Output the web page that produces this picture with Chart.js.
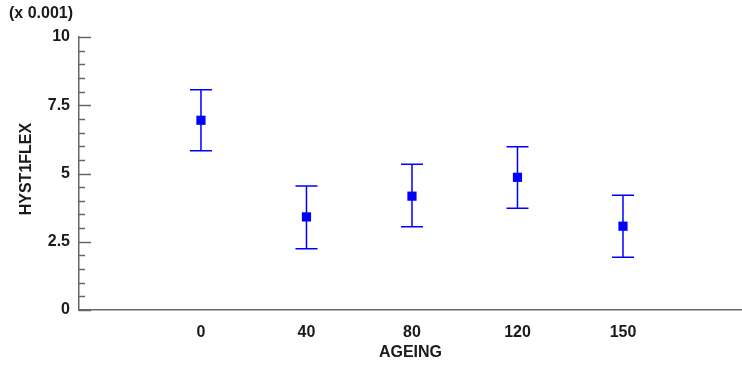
<!DOCTYPE html>
<html>
<head>
<meta charset="utf-8">
<script src="https://cdn.jsdelivr.net/npm/chart.js@4.4.0/dist/chart.umd.min.js"></script>
<style>
  html, body { margin: 0; padding: 0; background: #fff; overflow: hidden; }
  #wrap { width: 742px; height: 366px; position: relative; overflow: hidden; }
  canvas { display: block; }
</style>
</head>
<body>
<div id="wrap"><canvas id="chart"></canvas></div>
<script>
// ─── DATA ─────────────────────────────────────────────────────
const categories = ['0', '40', '80', '120', '150'];
const means      = [6.95, 3.41, 4.17, 4.86, 3.07];   // x 0.001
const lowerBars  = [5.83, 2.24, 3.05, 3.73, 1.93];
const upperBars  = [8.07, 4.54, 5.34, 5.98, 4.20];
const yTicks     = [0, 2.5, 5, 7.5, 10];

const BLUE = '#0000ff';
const AXIS = '#666666';
const TEXT = '#1a1a1a';
const FONT = 'Arial, "Liberation Sans", sans-serif';

// ─── ERROR BARS + AXIS TICKS ─────────────────────────────────
const errorBars = {
    id: 'errorBars',
    beforeDatasetsDraw(chart) {
        const { ctx, scales: { x, y } } = chart;
        ctx.save();
        ctx.strokeStyle = BLUE;
        ctx.lineWidth = 1.5;
        means.forEach((m, i) => {
            const px = x.getPixelForValue(i);
            const top = y.getPixelForValue(upperBars[i]);
            const bot = y.getPixelForValue(lowerBars[i]);
            ctx.beginPath();
            ctx.moveTo(px, top); ctx.lineTo(px, bot);
            ctx.moveTo(px - 11, top); ctx.lineTo(px + 11, top);
            ctx.moveTo(px - 11, bot); ctx.lineTo(px + 11, bot);
            ctx.stroke();
        });
        ctx.restore();
    },
    afterDraw(chart) {
        const { ctx, scales: { y } } = chart;
        const left = chart.chartArea.left;
        ctx.save();
        ctx.strokeStyle = AXIS;
        ctx.lineWidth = 1.5;
        // major ticks every 2.5, minor every 0.5, pointing into the plot
        for (let v = 0; v <= 10.001; v += 0.5) {
            const py = Math.round(y.getPixelForValue(v)) + 0.5;
            const major = Math.abs(v / 2.5 - Math.round(v / 2.5)) < 1e-6;
            ctx.beginPath();
            ctx.moveTo(left, py);
            ctx.lineTo(left + (major ? 12 : 6), py);
            ctx.stroke();
        }
        ctx.fillStyle = TEXT;
        ctx.font = 'bold 16px ' + FONT;
        ctx.textBaseline = 'middle';
        ctx.fillText('(x 0.001)', 9, 14);
        ctx.restore();
    }
};

new Chart(document.getElementById('chart'), {
    type: 'scatter',
    data: {
        datasets: [{
            data: means.map((m, i) => ({ x: i, y: m })),
            pointStyle: 'rect',
            pointRadius: 6.5,
            backgroundColor: BLUE,
            borderColor: BLUE,
            borderWidth: 0
        }]
    },
    plugins: [errorBars],
    options: {
        responsive: true,
        maintainAspectRatio: false,
        animation: false,
        layout: { autoPadding: false, padding: { top: 37, right: 0, left: 0, bottom: 0 } },
        plugins: { legend: { display: false }, tooltip: { enabled: false } },
        scales: {
            x: {
                type: 'linear',
                min: -1.156,
                max: 5.128,
                afterBuildTicks: s => { s.ticks = categories.map((c, i) => ({ value: i })); },
                afterFit: s => { s.height = 56; s.paddingLeft = 0; s.paddingRight = 0; },
                grid: { display: false, drawTicks: false },
                border: { display: true, color: AXIS, width: 1.5 },
                ticks: {
                    callback: (v) => categories[v],
                    color: TEXT,
                    font: { family: FONT, size: 16, weight: 'bold' },
                    padding: 13,
                    maxRotation: 0
                },
                title: {
                    display: true,
                    text: 'AGEING',
                    color: TEXT,
                    font: { family: FONT, size: 16, weight: 'bold' },
                    padding: { top: 0, bottom: 4 }
                }
            },
            y: {
                min: 0,
                max: 10,
                afterBuildTicks: s => { s.ticks = yTicks.map(v => ({ value: v })); },
                afterFit: s => { s.width = 79; s.paddingTop = 0; s.paddingBottom = 0; },
                grid: { display: false, drawTicks: false },
                border: { display: true, color: AXIS, width: 1.5 },
                ticks: {
                    color: TEXT,
                    font: { family: FONT, size: 16, weight: 'bold' },
                    padding: 9
                },
                title: {
                    display: true,
                    text: '  HYST1FLEX',
                    color: TEXT,
                    font: { family: FONT, size: 16, weight: 'bold' },
                    padding: { top: 17, bottom: 0 }
                }
            }
        }
    }
});
</script>
</body>
</html>
